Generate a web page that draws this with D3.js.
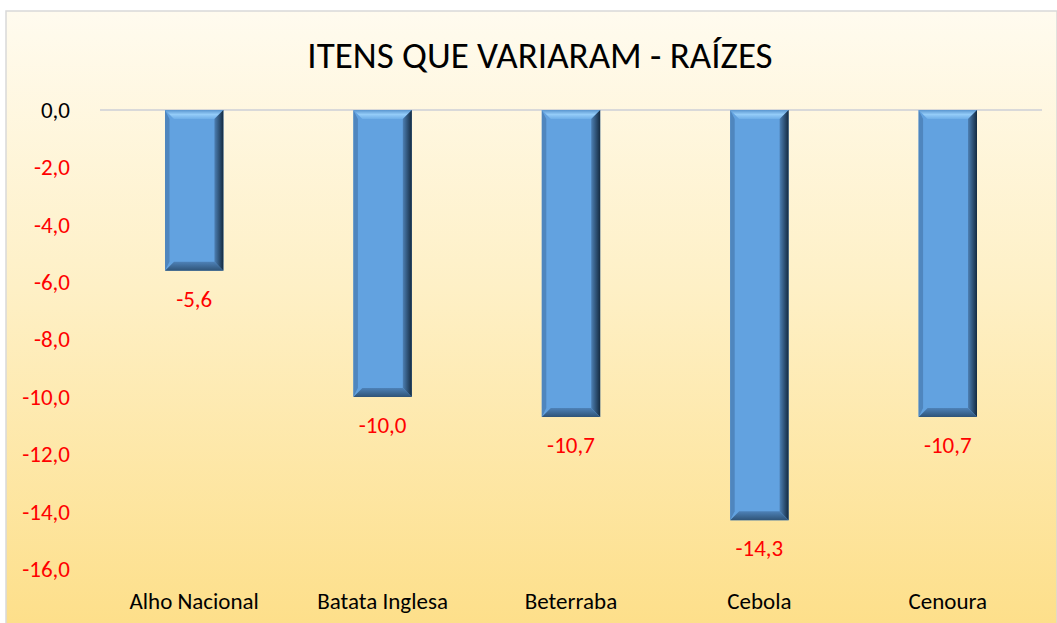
<!DOCTYPE html>
<html>
<head>
<meta charset="utf-8">
<script src="https://cdn.jsdelivr.net/npm/d3@7"></script>
<style>
body { margin: 0; background: #fff; }
svg text { font-family: Carlito, Lato, "Open Sans", sans-serif; }
</style>
</head>
<body>
<script>
let categories = ["Alho Nacional", "Batata Inglesa", "Beterraba", "Cebola", "Cenoura"];
let values = [-5.6, -10.0, -10.7, -14.3, -10.7];
let tickValues = [0, -2, -4, -6, -8, -10, -12, -14, -16];
let title = "ITENS QUE VARIARAM - RAÍZES";

var width = 1057, height = 623;

var svg = d3.select("body").append("svg")
    .attr("width", width)
    .attr("height", height);

var defs = svg.append("defs");
var bg = defs.append("linearGradient").attr("id", "bg")
    .attr("x1", 0).attr("y1", 0).attr("x2", 0).attr("y2", 1);
bg.append("stop").attr("offset", "0%").attr("stop-color", "#FFFBEF");
bg.append("stop").attr("offset", "45%").attr("stop-color", "#FEF0C6");
bg.append("stop").attr("offset", "100%").attr("stop-color", "#FDDF8A");

// chart area background
svg.append("rect")
    .attr("x", 6).attr("y", 11)
    .attr("width", width - 6).attr("height", height - 11 + 2)
    .attr("fill", "url(#bg)")
    .attr("stroke", "#D9D9D9")
    .attr("stroke-width", 1.5);

svg.append("text")
    .attr("x", 540).attr("y", 68)
    .attr("text-anchor", "middle")
    .style("font-size", "37px")
    .attr("fill", "#000")
    .text(title);

var margin = {left: 100, right: 1042, top: 110, bottom: 569};

var xScale = d3.scaleBand()
    .domain(categories)
    .range([margin.left, margin.right])
    .paddingInner(0.69)
    .paddingOuter(0.345);

var yScale = d3.scaleLinear()
    .domain([0, -16])
    .range([margin.top, margin.bottom]);

var fmt = d => d3.format(".1f")(d).replace(".", ",").replace("−", "-");

// y axis labels
var yAxis = svg.append("g")
    .attr("transform", "translate(" + (margin.left - 30) + ",0)")
    .call(d3.axisLeft(yScale).tickValues(tickValues).tickSize(0).tickFormat(fmt));
yAxis.select(".domain").remove();
yAxis.selectAll("text")
    .style("font-size", "23px")
    .attr("x", 0)
    .attr("fill", d => d < 0 ? "#FF0000" : "#000");

// zero line
svg.append("line")
    .attr("x1", margin.left).attr("x2", margin.right)
    .attr("y1", yScale(0)).attr("y2", yScale(0))
    .attr("stroke", "#D9D9D9").attr("stroke-width", 2);

// bars with bevel
var bw = xScale.bandwidth();
var bv = 9;
var bars = svg.selectAll(".bar")
    .data(values)
    .enter().append("g")
    .attr("class", "bar");

bars.append("rect")
    .attr("x", (d, i) => xScale(categories[i]))
    .attr("y", yScale(0))
    .attr("width", bw)
    .attr("height", d => yScale(d) - yScale(0))
    .attr("fill", "#62A2E0");

var tg = defs.append("linearGradient").attr("id", "tg")
    .attr("x1", 0).attr("y1", 0).attr("x2", 0).attr("y2", 1);
tg.append("stop").attr("offset", "0%").attr("stop-color", "#5A96D0");
tg.append("stop").attr("offset", "50%").attr("stop-color", "#94CCF8");
tg.append("stop").attr("offset", "100%").attr("stop-color", "#6EAEE8");

// top bevel
bars.append("path")
    .attr("d", function(d, i) {
        var x0 = xScale(categories[i]), y0 = yScale(0);
        return "M" + x0 + "," + y0 + "L" + (x0 + bw) + "," + y0 +
            "L" + (x0 + bw - bv) + "," + (y0 + bv) + "L" + (x0 + bv) + "," + (y0 + bv) + "Z";
    })
    .attr("fill", "url(#tg)");

// left bevel
bars.append("path")
    .attr("d", function(d, i) {
        var x0 = xScale(categories[i]), y0 = yScale(0), y1 = yScale(d);
        return "M" + x0 + "," + y0 + "L" + (x0 + bv * 0.5) + "," + (y0 + bv) +
            "L" + (x0 + bv * 0.5) + "," + (y1 - bv) + "L" + x0 + "," + y1 + "Z";
    })
    .attr("fill", "#4F86BE");

// right bevel
var rg = defs.append("linearGradient").attr("id", "rg")
    .attr("x1", 0).attr("y1", 0).attr("x2", 1).attr("y2", 0);
rg.append("stop").attr("offset", "0%").attr("stop-color", "#4D80B4");
rg.append("stop").attr("offset", "100%").attr("stop-color", "#142A40");
bars.append("path")
    .attr("d", function(d, i) {
        var x1 = xScale(categories[i]) + bw, y0 = yScale(0), y1 = yScale(d);
        return "M" + x1 + "," + y0 + "L" + (x1 - bv) + "," + (y0 + bv) +
            "L" + (x1 - bv) + "," + (y1 - bv) + "L" + x1 + "," + y1 + "Z";
    })
    .attr("fill", "url(#rg)");

var btg = defs.append("linearGradient").attr("id", "btg")
    .attr("x1", 0).attr("y1", 0).attr("x2", 0).attr("y2", 1);
btg.append("stop").attr("offset", "0%").attr("stop-color", "#4E82B8");
btg.append("stop").attr("offset", "100%").attr("stop-color", "#2F5478");

// bottom bevel
bars.append("path")
    .attr("d", function(d, i) {
        var x0 = xScale(categories[i]), y1 = yScale(d);
        return "M" + x0 + "," + y1 + "L" + (x0 + bw) + "," + y1 +
            "L" + (x0 + bw - bv) + "," + (y1 - bv) + "L" + (x0 + bv) + "," + (y1 - bv) + "Z";
    })
    .attr("fill", "url(#btg)");

// data labels
svg.selectAll(".val")
    .data(values)
    .enter().append("text")
    .attr("class", "val")
    .attr("x", (d, i) => xScale(categories[i]) + bw / 2)
    .attr("y", d => yScale(d) + 36)
    .attr("text-anchor", "middle")
    .style("font-size", "23px")
    .attr("fill", "#FF0000")
    .text(fmt);

// category labels
svg.selectAll(".cat")
    .data(categories)
    .enter().append("text")
    .attr("class", "cat")
    .attr("x", d => xScale(d) + bw / 2)
    .attr("y", 609)
    .attr("text-anchor", "middle")
    .style("font-size", "23px")
    .attr("fill", "#000")
    .text(d => d);
</script>
</body>
</html>
